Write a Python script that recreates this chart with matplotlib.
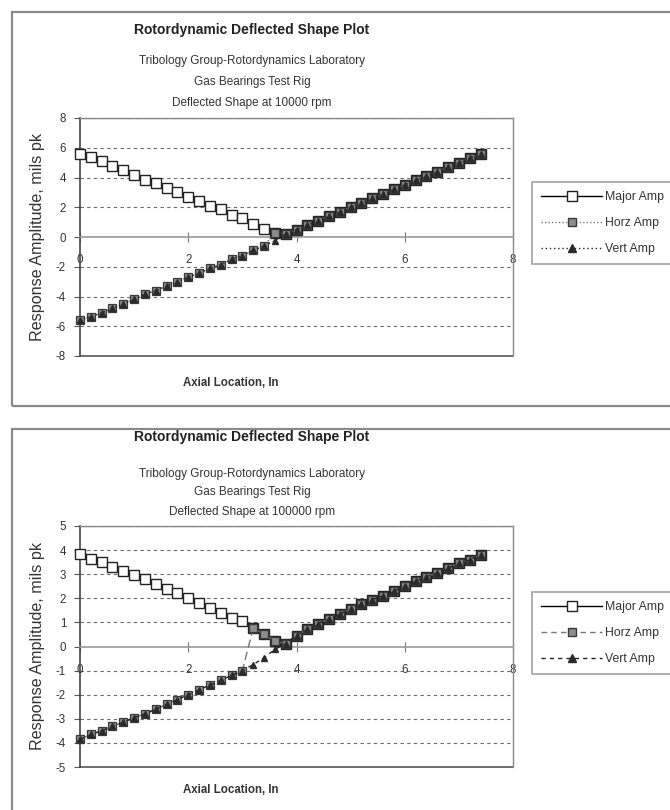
import matplotlib
matplotlib.use('Agg')
import matplotlib.pyplot as plt
from matplotlib.patches import Rectangle
from matplotlib.lines import Line2D

plt.rcParams['font.family'] = ['Liberation Sans', 'DejaVu Sans']

# axial stations along the rotor, in
axial_in = [0.0, 0.2, 0.4, 0.6, 0.8, 1.0, 1.2, 1.4, 1.6, 1.8,
            2.0, 2.2, 2.4, 2.6, 2.8, 3.0, 3.2, 3.4, 3.6, 3.8,
            4.0, 4.2, 4.4, 4.6, 4.8, 5.0, 5.2, 5.4, 5.6, 5.8,
            6.0, 6.2, 6.4, 6.6, 6.8, 7.0, 7.2, 7.4]

# 10000 rpm response, mils pk
major_10k = [5.6, 5.35, 5.1, 4.8, 4.5, 4.2, 3.85, 3.6, 3.3, 3.0,
             2.7, 2.45, 2.1, 1.85, 1.5, 1.25, 0.9, 0.55, 0.28, 0.22,
             0.5, 0.8, 1.1, 1.4, 1.7, 2.0, 2.3, 2.6, 2.9, 3.2,
             3.5, 3.8, 4.1, 4.4, 4.7, 5.0, 5.3, 5.6]
horz_10k = [-5.6, -5.35, -5.1, -4.8, -4.5, -4.2, -3.85, -3.6, -3.3, -3.0,
            -2.7, -2.45, -2.1, -1.85, -1.5, -1.25, -0.9, -0.6, 0.28, 0.22,
            0.5, 0.8, 1.1, 1.4, 1.7, 2.0, 2.3, 2.6, 2.9, 3.2,
            3.5, 3.8, 4.1, 4.4, 4.7, 5.0, 5.3, 5.6]
vert_10k = [-5.6, -5.35, -5.1, -4.8, -4.5, -4.2, -3.85, -3.6, -3.3, -3.0,
            -2.7, -2.45, -2.1, -1.85, -1.5, -1.25, -0.9, -0.6, -0.25, 0.22,
            0.5, 0.8, 1.1, 1.4, 1.7, 2.0, 2.3, 2.6, 2.9, 3.2,
            3.5, 3.8, 4.1, 4.4, 4.7, 5.0, 5.3, 5.6]

# 100000 rpm response, mils pk
major_100k = [3.85, 3.65, 3.5, 3.3, 3.15, 2.95, 2.8, 2.6, 2.4, 2.2,
              2.0, 1.8, 1.6, 1.4, 1.2, 1.05, 0.77, 0.5, 0.22, 0.12,
              0.45, 0.72, 0.95, 1.15, 1.35, 1.55, 1.75, 1.95, 2.1, 2.3,
              2.5, 2.7, 2.9, 3.05, 3.25, 3.45, 3.6, 3.8]
horz_100k = [-3.85, -3.65, -3.5, -3.3, -3.15, -2.95, -2.8, -2.6, -2.4, -2.2,
             -2.0, -1.8, -1.6, -1.4, -1.2, -1.0, 0.77, 0.5, 0.22, 0.12,
             0.45, 0.72, 0.95, 1.15, 1.35, 1.55, 1.75, 1.95, 2.1, 2.3,
             2.5, 2.7, 2.9, 3.05, 3.25, 3.45, 3.6, 3.8]
vert_100k = [-3.85, -3.65, -3.5, -3.3, -3.15, -2.95, -2.8, -2.6, -2.4, -2.2,
             -2.0, -1.8, -1.6, -1.4, -1.2, -1.0, -0.75, -0.47, -0.12, 0.12,
             0.45, 0.72, 0.95, 1.15, 1.35, 1.55, 1.75, 1.95, 2.1, 2.3,
             2.5, 2.7, 2.9, 3.05, 3.25, 3.45, 3.6, 3.8]

x_ticks = [0, 2, 4, 6, 8]
y_ticks_10k = [-8, -6, -4, -2, 0, 2, 4, 6, 8]
y_ticks_100k = [-5, -4, -3, -2, -1, 0, 1, 2, 3, 4, 5]

title = 'Rotordynamic Deflected Shape Plot'
sub_lines = ['Tribology Group-Rotordynamics Laboratory', 'Gas Bearings Test Rig',
             'Deflected Shape at {} rpm']
series_names = ['Major Amp', 'Horz Amp', 'Vert Amp']

W, H = 670, 810
fig = plt.figure(figsize=(W / 100, H / 100), dpi=100)
fig.patch.set_facecolor('white')


def fx(px):
    return px / W


def fy(py):
    return 1 - py / H


def panel(box_top, box_bot, ax_top, ax_bot, title_y, sub_ys, xlab_y, leg_top,
          major, horz, vert, yticks, rpm, horz_ls, vert_ls, horz_leg_ls):
    # chart-area frame
    fig.patches.append(Rectangle((fx(12), fy(box_bot)), fx(700), fy(box_top) - fy(box_bot),
                                 transform=fig.transFigure, fill=False,
                                 edgecolor='#8a8a8a', linewidth=1.6))
    fig.text(fx(252), fy(title_y), title, ha='center', va='center',
             fontsize=10, fontweight='bold', color='#222222')
    for line, yy in zip(sub_lines, sub_ys):
        fig.text(fx(252), fy(yy), line.format(rpm), ha='center', va='center',
                 fontsize=8.5, color='#333333')

    ax = fig.add_axes([fx(80), fy(ax_bot), fx(513) - fx(80), fy(ax_top) - fy(ax_bot)])
    ax.set_xlim(0, 8)
    ax.set_ylim(yticks[0], yticks[-1])
    ax.set_facecolor('white')

    for t in yticks[1:-1]:
        if t != 0:
            ax.axhline(t, color='#6a6a6a', linestyle=(0, (3, 3)), linewidth=0.8, zorder=1)
    ax.axhline(yticks[-1], color='#6a6a6a', linestyle=(0, (1, 1)), linewidth=1.0, zorder=1)

    ax.plot(axial_in, major, color='black', linewidth=1.0, marker='s', markersize=7,
            markerfacecolor='white', markeredgecolor='#222222', markeredgewidth=1.0,
            label=series_names[0], zorder=3, clip_on=False)
    ax.plot(axial_in, horz, color='#777777', linestyle=horz_ls, linewidth=1.0, marker='s',
            markersize=6.3, markerfacecolor='#8c8c8c', markeredgecolor='#3a3a3a',
            markeredgewidth=0.9, label=series_names[1], zorder=4, clip_on=False)
    ax.plot(axial_in, vert, color='#222222', linestyle=vert_ls, linewidth=1.0, marker='^',
            markersize=5, markerfacecolor='#2a2a2a', markeredgecolor='#2a2a2a',
            label=series_names[2], zorder=5, clip_on=False)

    for s in ['top', 'right']:
        ax.spines[s].set_color('#8a8a8a')
        ax.spines[s].set_linewidth(1.0)
    ax.spines['left'].set_color('#444444')
    ax.spines['left'].set_linewidth(1.2)
    ax.spines['bottom'].set_position(('data', 0))
    ax.spines['bottom'].set_color('#9a9a9a')
    ax.spines['bottom'].set_linewidth(1.2)
    ax.plot([0, 1], [0, 0], transform=ax.transAxes, color='#555555', linewidth=1.2,
            clip_on=False, zorder=2)

    ax.set_xticks(x_ticks)
    ax.set_yticks(yticks)
    ax.set_yticklabels([str(t) for t in yticks])
    ax.tick_params(axis='x', direction='inout', length=7, width=0.8, color='#777777',
                   pad=9, labelsize=8.3, labelcolor='#333333')
    ax.tick_params(axis='y', direction='out', length=4, width=0.8, color='#555555',
                   pad=6, labelsize=8.3, labelcolor='#333333')

    fig.text(fx(38), (fy(ax_top) + fy(ax_bot)) / 2, 'Response Amplitude, mils pk',
             rotation=90, ha='center', va='center', fontsize=11.6,
             color='#333333')
    fig.text(fx(231), fy(xlab_y), 'Axial Location, In', ha='center', va='center',
             fontsize=8.3, fontweight='bold', color='#333333')

    handles = [
        Line2D([], [], color='black', linewidth=1.0, marker='s', markersize=6.5,
               markerfacecolor='white', markeredgecolor='#222222'),
        Line2D([], [], color='#777777', linestyle=horz_leg_ls, linewidth=1.0, marker='s',
               markersize=6, markerfacecolor='#8c8c8c', markeredgecolor='#3a3a3a'),
        Line2D([], [], color='#222222', linestyle=vert_ls, linewidth=1.0, marker='^',
               markersize=5.5, markerfacecolor='#2a2a2a', markeredgecolor='#2a2a2a'),
    ]
    leg = fig.legend(handles, series_names,
                     loc='upper left', bbox_to_anchor=(fx(532), fy(leg_top)),
                     fontsize=8.8, frameon=True, fancybox=False, handlelength=5.0,
                     handletextpad=0.2, borderpad=0.75, labelspacing=1.15,
                     borderaxespad=0)
    leg.get_frame().set_edgecolor('#8a8a8a')
    leg.get_frame().set_linewidth(1.2)
    for t in leg.get_texts():
        t.set_color('#333333')
    return ax


panel(12, 406, 118, 356, 30, [61, 82, 103], 383, 182,
      major_10k, horz_10k, vert_10k, y_ticks_10k, '10000',
      (0, (1, 1.5)), (0, (1, 2)), (0, (1, 1.5)))
panel(429, 830, 526, 767, 437, [474, 492, 512], 790, 592,
      major_100k, horz_100k, vert_100k, y_ticks_100k, '100000',
      (0, (6, 3)), (0, (3, 3)), (0, (4, 3)))

fig.savefig('out.png', dpi=100, facecolor='white')
